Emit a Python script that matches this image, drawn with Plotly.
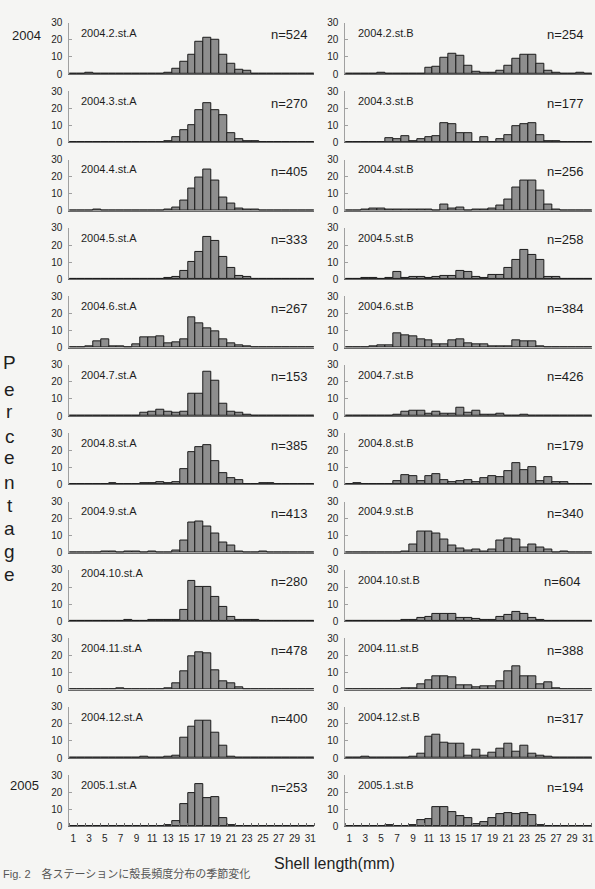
import plotly.graph_objects as go

W, H = 595, 889

# ---------------- data ----------------
sizes = list(range(1, 32))                      # shell length classes (mm)
tick_vals = list(range(1, 32, 2))
tick_text = [str(v) for v in tick_vals]
months = ["2004.2", "2004.3", "2004.4", "2004.5", "2004.6", "2004.7",
          "2004.8", "2004.9", "2004.10", "2004.11", "2004.12", "2005.1"]
n_A = [524, 270, 405, 333, 267, 153, 385, 413, 280, 478, 400, 253]
n_B = [254, 177, 256, 258, 384, 426, 179, 340, 604, 388, 317, 194]

# station A, percentage per 1-mm class (1..31)
A_2004_02 = [0,0,0.5,0,0,0,0,0,0,0,0,0,0.5,3,7,11,19,21,20,11,6,2.5,2,0.3,0,0,0,0,0,0,0]
A_2004_03 = [0,0,0,0,0,0,0,0,0,0,0,0,0.5,3,7,10,19,23,19,16,5.5,2,1,0.5,0,0,0,0,0,0,0]
A_2004_04 = [0,0,0,1,0,0.3,0.3,0,0,0.3,0.3,0,0.5,2,6,13,19.5,24,17.5,8,4.5,1.5,1,1,0,0,0,0,0,0,0]
A_2004_05 = [0,0,0,0,0,0,0,0,0,0,0,0,0.5,1.5,5,10,16,24.5,22.5,13,6.5,2,1.5,0.3,0,0,0,0,0,0,0]
A_2004_06 = [0,0,1,3.5,5,0.5,0.7,0.3,2,6,6,6.5,2.5,3,5,18,14,11.5,9.5,5,2.5,1.5,0.5,0,0,0,0,0,0,0,0]
A_2004_07 = [0,0,0,0,0,0,0,0,0,2,2.5,3.5,2.5,2,2.5,13,13,26,20.5,7,2.5,2,1,0,0,0,0,0,0,0,0]
A_2004_08 = [0,0,0,0,0,0.7,0,0,0,0.5,0.5,1.5,0.5,1.5,9,19,22,23,13.5,6.5,3.5,2.5,0,0,0.5,0.5,0,0,0,0,0]
A_2004_09 = [0,0,0,0,0.5,1,0,1,1,0,0.5,0,0,1.5,7,17.5,18.5,15.5,11,6,4,0.5,0,0,0.5,0,0,0,0,0,0]
A_2004_10 = [0,0,0,0,0,0,0,1,0.3,0,0.5,1,1,1,6.5,23.5,20,20,14,8.5,2.5,1,0.5,0.5,0,0,0,0,0,0,0]
A_2004_11 = [0,0,0,0,0,0,1,0,0.3,0.3,0.3,0,0.5,3.5,10.5,19.5,22,21.5,11,5,3.5,1.5,0.3,0,0.3,0,0.3,0,0,0,0]
A_2004_12 = [0,0,0,0,0.3,0.3,0,0,0,0.5,0,0,0.5,1.5,12,18.5,22,22,15,7,1,0.3,0.3,0,0,0,0,0,0,0,0]
A_2005_01 = [0,0,0,0,0,0,0,0,0,0.3,0,0,0.5,3,13,19.5,25,16.5,17,5,0.5,0,0,0,0.3,0,0,0,0,0,0]

# station B
B_2004_02 = [0,0,0,0,1,0,0.3,0.3,0.3,0.3,3.5,4.5,9.5,12,10.5,5,1.5,0.5,1,2,5,9,11,11.5,6,2,0.5,0,0,0.5,0]
B_2004_03 = [0,0,0,0.3,0.3,2.5,2,3.5,1,2,3,3.5,11,10.5,5.5,5.5,0.3,3,0.3,2,4.5,9.5,10.5,11.5,4,1,1,0,0,0,0]
B_2004_04 = [0,0,1,1.5,1.5,1,1,1,1,1,1,0,3.5,1.5,2,0,0.5,0.5,1.5,3,6.5,13.5,18,18,12,3.5,1,0,0,0,0]
B_2004_05 = [0,0,0.5,0.5,0,1,4.5,0.5,1.5,1.5,1,1.5,2,2,5,4,1.5,0.5,2.5,2.5,6.5,11.5,17,14,11,1.5,1.5,0,0.3,0,0]
B_2004_06 = [0,0,0,0.5,1.5,1.5,8.5,7,6.5,5,4.5,2,2,4,5,2.5,2,2,1,0.5,0.5,4.5,3.5,3.5,0.5,0.3,0.3,0,0,0.3,0]
B_2004_07 = [0,0,0,0,0,0.3,0.5,2.5,3,3,1.5,2.5,1.5,1.5,5,2,3,1,0.5,1.5,0.3,0.3,0.5,0.3,0.3,0.3,0,0,0,0,0]
B_2004_08 = [0,0.7,0,0,0,0,2,5.5,5,2,5,6,2.5,1.5,2,2.5,1.5,3.5,5,4.5,8,12.5,8.5,10,2,4.5,1.5,1.5,0,0,0]
B_2004_09 = [0,0,0,0,0.3,0.3,0.3,1,5,12.5,12.5,11,8,4,2.5,1.5,2,1,2,7,8.5,8,3,5,3,2,0,0.5,0,0,0]
B_2004_10 = [0,0,0,0,0,0,0.3,0.5,0.5,2,2.5,4.5,4.5,4.5,2,2,1.5,1,1,2.5,3.5,5.5,4,2,1,0,0,0,0,0,0]
B_2004_11 = [0,0,0,0,0,0,0.3,1,1,3,5.5,8,7.5,7,2.5,2.5,1.5,2,2,5,10.5,13.5,7.5,7.5,3,4,0.5,0.3,0.3,0,0]
B_2004_12 = [0,0,0.5,0,0,0,0,0,1,2.5,12.5,13.5,9,8.5,8.5,1.5,5,1.5,3,5.5,8.5,3.5,7,2.5,1.5,1,0.3,0.3,0,0,0]
B_2005_01 = [0,0,0,0,0,0.5,0,0,1,3.5,4.5,11,11.5,8.5,6,5,1.5,2.5,5,7,7.5,7,8,6.5,0.5,0.3,0.3,0,0,0,0]

st_A = [A_2004_02, A_2004_03, A_2004_04, A_2004_05, A_2004_06, A_2004_07,
        A_2004_08, A_2004_09, A_2004_10, A_2004_11, A_2004_12, A_2005_01]
st_B = [B_2004_02, B_2004_03, B_2004_04, B_2004_05, B_2004_06, B_2004_07,
        B_2004_08, B_2004_09, B_2004_10, B_2004_11, B_2004_12, B_2005_01]

# ---------------- layout helpers ----------------
def fx(px):
    return px / W

def fy(py):
    return 1 - py / H

FONT = "Liberation Sans, Arial, sans-serif"
NARROW = "Liberation Sans Narrow, Arial Narrow, Liberation Sans, sans-serif"
TXT = "#1e1e1e"
BG = "#f5f5f3"

x_dom_px = [(69.5, 315.3), (346.5, 593.9)]
title_x_px = [79.5, 357]
n_x_px = [311, 588]

fig = go.Figure()
layout = dict(
    width=W, height=H, autosize=False,
    margin=dict(l=0, r=0, t=0, b=0),
    paper_bgcolor=BG, plot_bgcolor=BG,
    showlegend=False, bargap=0,
    font=dict(family=FONT, color=TXT),
)
annotations = []

for r in range(12):
    zero = 69 + r * 69.33
    top = zero - 52
    for c in range(2):
        i = r * 2 + c + 1
        xs = "x" if i == 1 else f"x{i}"
        ys = "y" if i == 1 else f"y{i}"
        xk = "xaxis" if i == 1 else f"xaxis{i}"
        yk = "yaxis" if i == 1 else f"yaxis{i}"
        vals = (st_A if c == 0 else st_B)[r]
        fig.add_trace(go.Bar(
            x=sizes, y=vals, xaxis=xs, yaxis=ys, width=1,
            marker=dict(color="#8e8e8e", line=dict(color="#1c1c1c", width=1)),
            hoverinfo="skip",
        ))
        bottom = (r == 11)
        xa = dict(
            domain=[fx(x_dom_px[c][0]), fx(x_dom_px[c][1])],
            range=[0.5, 31.5], anchor=ys,
            showline=True, linecolor="#6a6a6a", linewidth=1,
            showgrid=False, zeroline=False, fixedrange=True,
            tickmode="array", tickvals=tick_vals, ticktext=tick_text,
            ticks="", showticklabels=bottom,
            tickfont=dict(family=NARROW, size=10, color=TXT),
        )
        if bottom:
            xa["minor"] = dict(tickmode="linear", tick0=0.5, dtick=1,
                               ticks="inside", ticklen=3, tickcolor="#6a6a6a")
            xa["ticklabelstandoff"] = 3
        layout[xk] = xa
        layout[yk] = dict(
            domain=[fy(zero), fy(top)], range=[0, 30], anchor=xs,
            tickmode="array", tickvals=[0, 10, 20, 30],
            showline=True, linecolor="#a0a0a0", linewidth=1,
            ticks="inside", ticklen=3, tickcolor="#a0a0a0",
            showgrid=False, zeroline=False, fixedrange=True,
            tickfont=dict(family=FONT, size=10, color=TXT),
            ticklabelstandoff=4,
        )
        st = "A" if c == 0 else "B"
        ty = 28.3 if (r == 8 and c == 0) else 24.2
        annotations.append(dict(
            text=f"{months[r]}.st.{st}", xref="paper", yref=ys,
            x=fx(title_x_px[c]), y=ty, xanchor="left", yanchor="middle",
            showarrow=False, font=dict(family=FONT, size=11, color=TXT),
        ))
        nval = (n_A if c == 0 else n_B)[r]
        nx = n_x_px[c] - (3 if (r == 8 and c == 1) else 0)
        annotations.append(dict(
            text=f"n={nval}", xref="paper", yref=ys,
            x=fx(nx), y=23, xanchor="right", yanchor="middle",
            showarrow=False, font=dict(family=FONT, size=13, color=TXT),
        ))

# year labels
annotations.append(dict(text="2004", xref="paper", yref="paper", x=fx(27), y=fy(29.5),
                        xanchor="center", yanchor="middle", showarrow=False,
                        font=dict(family=FONT, size=13, color=TXT)))
annotations.append(dict(text="2005", xref="paper", yref="paper", x=fx(25), y=fy(790.5),
                        xanchor="center", yanchor="middle", showarrow=False,
                        font=dict(family=FONT, size=13, color=TXT)))

# vertical "Percentage"
letters = list("Percentage")
letter_y = [361, 389, 411.5, 436, 458, 483, 506.5, 530, 553, 576.5]
for ch, ly in zip(letters, letter_y):
    annotations.append(dict(text=ch, xref="paper", yref="paper", x=fx(10), y=fy(ly),
                            xanchor="center", yanchor="middle", showarrow=False,
                            font=dict(family=FONT, size=19, color=TXT)))

# x axis title
annotations.append(dict(text="Shell length(mm)", xref="paper", yref="paper",
                        x=fx(336), y=fy(869), xanchor="center", yanchor="middle",
                        showarrow=False, font=dict(family=FONT, size=16, color=TXT)))

# caption at the page bottom
annotations.append(dict(text="Fig. 2　各ステーションに殻長頻度分布の季節変化",
                        xref="paper", yref="paper",
                        x=fx(1), y=fy(888), xanchor="left", yanchor="bottom",
                        showarrow=False,
                        font=dict(family="Liberation Sans, Noto Sans CJK JP", size=11, color="#555")))

layout["annotations"] = annotations
fig.update_layout(**layout)
fig.write_html("out.html")
